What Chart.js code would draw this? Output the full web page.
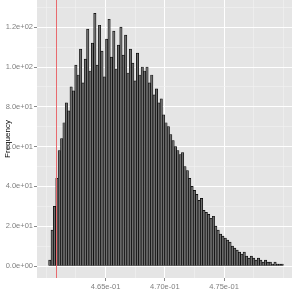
<!DOCTYPE html>
<html>
<head>
<meta charset="utf-8">
<script src="https://cdn.jsdelivr.net/npm/chart.js@4/dist/chart.umd.min.js"></script>
<style>
  html, body { margin: 0; padding: 0; background: #fff; }
  #wrap { width: 295px; height: 293px; }
</style>
</head>
<body>
<div id="wrap"><canvas id="hist" width="295" height="293"></canvas></div>
<script>
// histogram bins (left edge of first bin + bin width) and counts
const BIN_START = 0.4602
const BIN_WIDTH = 0.0002
const counts = [
  3, 18, 30, 44, 58, 64, 72, 82, 78, 90,
  88, 101, 96, 109, 92, 104, 119, 98, 112, 127,
  101, 121, 108, 95, 114, 124, 105, 118, 99, 111,
  120, 106, 116, 97, 109, 102, 93, 107, 96, 100,
  98, 100, 92, 96, 86, 89, 82, 84, 76, 72,
  70, 66, 63, 60, 58, 56, 57, 50, 48, 44,
  40, 38, 36, 33, 34, 28, 27, 26, 24, 25,
  20, 18, 16, 15, 14, 13, 12, 10, 9, 8,
  7, 6, 7, 5, 4, 5, 4, 3, 4, 3,
  2, 3, 2, 2, 1, 2, 1, 1, 1
]
// reference line (red)
const refValue = 0.46083

// axis ticks
const xMajor = [0.465, 0.470, 0.475]
const xMinor = [0.460, 0.4625, 0.4675, 0.4725, 0.4775, 0.480]
const yMajor = [0, 20, 40, 60, 80, 100, 120]
const yMinor = [10, 30, 50, 70, 90, 110, 130]

const points = counts.map((c, i) => ({ x: BIN_START + (i + 0.5) * BIN_WIDTH, y: c }))

// 2.0e+01 style labels, like R
function sci(v, digits) {
  const [m, e] = v.toExponential(digits).split("e")
  const sign = e[0] === "-" ? "-" : "+"
  const n = Math.abs(parseInt(e, 10))
  return m + "e" + sign + (n < 10 ? "0" + n : n)
}

const isMajor = (list, v) => list.some(t => Math.abs(t - v) < 1e-9)
const tickIsMajor = (list, c) => !!(c && c.tick) && isMajor(list, c.tick.value)

const panelBg = {
  id: "panelBg",
  beforeDraw(chart) {
    const { ctx, chartArea: a } = chart
    ctx.save()
    ctx.fillStyle = "#e5e5e5"
    ctx.fillRect(a.left, a.top, a.right - a.left, a.bottom - a.top)
    ctx.restore()
  }
}

const refLine = {
  id: "refLine",
  afterDatasetsDraw(chart) {
    const { ctx, chartArea: a } = chart
    const x = Math.round(chart.scales.x.getPixelForValue(refValue)) + 0.5
    ctx.save()
    ctx.strokeStyle = "#e86a6e"
    ctx.lineWidth = 1
    ctx.beginPath()
    ctx.moveTo(x, a.top)
    ctx.lineTo(x, a.bottom)
    ctx.stroke()
    ctx.restore()
  }
}

new Chart(document.getElementById("hist"), {
  type: "bar",
  data: {
    datasets: [{
      data: points,
      backgroundColor: "#6e6e6e",
      borderColor: "#000000",
      borderWidth: 0.7,
      borderSkipped: false,
      barPercentage: 1,
      categoryPercentage: 1
    }]
  },
  options: {
    responsive: false,
    animation: false,
    layout: { padding: { top: 0, right: 3, bottom: 0, left: 0 } },
    plugins: { legend: { display: false }, tooltip: { enabled: false } },
    scales: {
      x: {
        type: "linear",
        offset: false,
        min: 0.45922,
        max: 0.48073,
        afterBuildTicks: s => { s.ticks = [...xMinor, ...xMajor].sort((a, b) => a - b).map(v => ({ value: v })) },
        afterFit: s => { s.height = 15; s.paddingLeft = 0; s.paddingRight = 0 },
        border: { display: false },
        grid: {
          offset: false,
          color: c => tickIsMajor(xMajor, c) ? "#ffffff" : "#f2f2f2",
          lineWidth: c => tickIsMajor(xMajor, c) ? 1 : 0.6,
          tickColor: c => tickIsMajor(xMajor, c) ? "#8a8a8a" : "rgba(0,0,0,0)",
          tickLength: 3
        },
        ticks: {
          autoSkip: false,
          maxRotation: 0,
          padding: 1,
          color: "#7f7f7f",
          font: { family: "Liberation Sans", size: 7.5 },
          callback: v => isMajor(xMajor, v) ? sci(v, 2) : ""
        }
      },
      y: {
        min: -6.03,
        max: 133.67,
        afterBuildTicks: s => { s.ticks = [...yMinor, ...yMajor].sort((a, b) => a - b).map(v => ({ value: v })) },
        afterFit: s => { s.width = 37; s.paddingTop = 0; s.paddingBottom = 0 },
        border: { display: false },
        grid: {
          color: c => tickIsMajor(yMajor, c) ? "#ffffff" : "#f2f2f2",
          lineWidth: c => tickIsMajor(yMajor, c) ? 1 : 0.6,
          tickColor: c => tickIsMajor(yMajor, c) ? "#8a8a8a" : "rgba(0,0,0,0)",
          tickLength: 3
        },
        ticks: {
          autoSkip: false,
          padding: 1,
          color: "#7f7f7f",
          font: { family: "Liberation Sans", size: 7.5 },
          callback: v => isMajor(yMajor, v) ? sci(v, 1) : ""
        },
        title: {
          display: true,
          text: "Frequency",
          color: "#000000",
          padding: { top: 3, bottom: 0 },
          font: { family: "Liberation Sans", size: 8 }
        }
      }
    }
  },
  plugins: [panelBg, refLine]
})
</script>
</body>
</html>
